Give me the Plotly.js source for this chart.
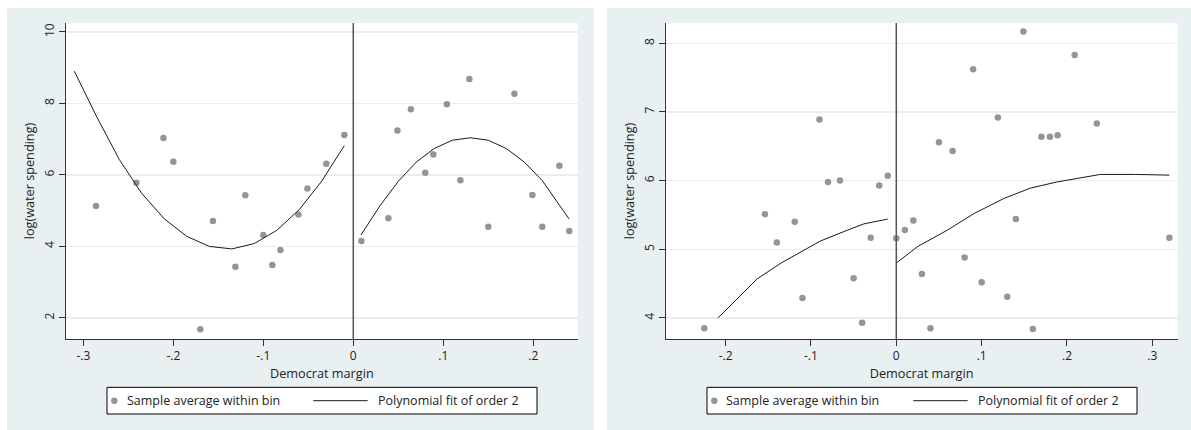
<!DOCTYPE html>
<html><head><meta charset="utf-8">
<script src="https://cdn.plot.ly/plotly-3.0.1.min.js"></script>
<style>html,body{margin:0;padding:0;background:#fff}#chart{width:1191px;height:430px}</style>
</head><body><div id="chart"></div>
<script>
// ---------- Panel 1 data ----------
const p1BinX = [-0.286,-0.241,-0.211,-0.200,-0.170,-0.156,-0.131,-0.120,-0.100,-0.090,-0.081,-0.061,-0.051,-0.030,-0.010,
                0.009,0.039,0.049,0.064,0.080,0.089,0.104,0.119,0.129,0.150,0.179,0.199,0.210,0.229,0.240];
const p1BinY = [5.13,5.78,7.03,6.37,1.68,4.71,3.43,5.43,4.32,3.48,3.90,4.89,5.62,6.31,7.12,
                4.15,4.79,7.24,7.84,6.06,6.57,7.98,5.85,8.68,4.55,8.27,5.44,4.55,6.26,4.43];
const p1FitLX = [-0.310,-0.285,-0.260,-0.235,-0.210,-0.185,-0.160,-0.135,-0.110,-0.085,-0.060,-0.035,-0.010];
const p1FitLY = [8.90,7.62,6.43,5.48,4.77,4.28,4.00,3.93,4.08,4.45,5.03,5.83,6.82];
const p1FitRX = [0.0085,0.030,0.050,0.070,0.090,0.110,0.130,0.150,0.170,0.190,0.210,0.2397];
const p1FitRY = [4.32,5.15,5.82,6.36,6.74,6.97,7.04,6.97,6.74,6.36,5.84,4.77];
const p1XTicks = [-0.3,-0.2,-0.1,0,0.1,0.2];
const p1XTickText = ['-.3','-.2','-.1','0','.1','.2'];
const p1YTicks = [2,4,6,8,10];

// ---------- Panel 2 data ----------
const p2BinX = [-0.225,-0.154,-0.140,-0.119,-0.110,-0.090,-0.080,-0.066,-0.050,-0.040,-0.030,-0.020,-0.010,
                0.000,0.010,0.020,0.030,0.040,0.050,0.066,0.080,0.090,0.100,0.119,0.130,0.140,0.149,0.160,0.170,0.180,0.189,0.209,0.235,0.320];
const p2BinY = [3.85,5.51,5.10,5.40,4.29,6.89,5.98,6.00,4.58,3.93,5.17,5.93,6.07,
                5.16,5.28,5.42,4.64,3.85,6.56,6.43,4.88,7.62,4.52,6.92,4.31,5.44,8.17,3.84,6.64,6.64,6.66,7.83,6.83,5.17];
const p2FitLX = [-0.209,-0.185,-0.163,-0.135,-0.108,-0.089,-0.057,-0.038,-0.010];
const p2FitLY = [4.00,4.30,4.57,4.80,4.99,5.12,5.28,5.37,5.44];
const p2FitRX = [0.000,0.025,0.060,0.091,0.126,0.157,0.188,0.212,0.239,0.280,0.320];
const p2FitRY = [4.80,5.04,5.28,5.52,5.74,5.89,5.98,6.03,6.09,6.09,6.08];
const p2XTicks = [-0.2,-0.1,0,0.1,0.2,0.3];
const p2XTickText = ['-.2','-.1','0','.1','.2','.3'];
const p2YTicks = [4,5,6,7,8];

const binName = 'Sample average within bin';
const fitName = 'Polynomial fit of order 2';

// ---------- styling ----------
const FONT = '"Open Sans", "Noto Sans", sans-serif';
const TXT = '#222222';
const BG = '#e8f0f2';
const DOT = '#959595';
const W = 1191, H = 430;
const dot = {color:DOT, size:6.5};
const ln = {color:'#1a1a1a', width:1};

const traces = [
  {x:p1BinX, y:p1BinY, type:'scatter', mode:'markers', marker:dot, name:binName, xaxis:'x', yaxis:'y'},
  {x:p1FitLX, y:p1FitLY, type:'scatter', mode:'lines', line:ln, name:fitName, xaxis:'x', yaxis:'y'},
  {x:p1FitRX, y:p1FitRY, type:'scatter', mode:'lines', line:ln, name:fitName, xaxis:'x', yaxis:'y'},
  {x:p2BinX, y:p2BinY, type:'scatter', mode:'markers', marker:dot, name:binName, xaxis:'x2', yaxis:'y2'},
  {x:p2FitLX, y:p2FitLY, type:'scatter', mode:'lines', line:ln, name:fitName, xaxis:'x2', yaxis:'y2'},
  {x:p2FitRX, y:p2FitRY, type:'scatter', mode:'lines', line:ln, name:fitName, xaxis:'x2', yaxis:'y2'}
];

function xAxis(domain, range, tv, tt, anchor){
  return {domain:domain, range:range, anchor:anchor, tickvals:tv, ticktext:tt,
    ticks:'outside', ticklen:6, tickcolor:'#333', tickwidth:1,
    showline:true, linecolor:'#333', linewidth:1, showgrid:false, zeroline:false,
    tickfont:{family:FONT, size:12, color:TXT},
    title:{text:'Democrat margin', font:{family:FONT, size:12.7, color:TXT}, standoff:1},
    automargin:false, fixedrange:true};
}
function yAxis(domain, range, tv, anchor){
  return {domain:domain, range:range, anchor:anchor, tickvals:tv, tickangle:-90,
    ticks:'outside', ticklen:6, tickcolor:'#333', tickwidth:1,
    showline:true, linecolor:'#333', linewidth:1, showgrid:true, gridcolor:'#e6eef1', gridwidth:1.3, zeroline:false,
    tickfont:{family:FONT, size:12, color:TXT},
    title:{text:'log(water spending)', font:{family:FONT, size:12.7, color:TXT}, standoff:3},
    automargin:false, fixedrange:true};
}

// legend drawn as a framed key (box, marker, line, labels) for each panel
const px = v => v / W, py = v => 1 - v / H;
function legendParts(off){
  const cy = 400.7;
  const shapes = [
    {type:'rect', xref:'paper', yref:'paper', x0:px(107+off), x1:px(537+off), y0:py(414), y1:py(387.3),
      fillcolor:'#ffffff', line:{color:'#000000', width:1}, layer:'above'},
    {type:'circle', xref:'paper', yref:'paper', x0:px(114.3+off-3.2), x1:px(114.3+off+3.2), y0:py(cy+3.2), y1:py(cy-3.2),
      fillcolor:DOT, line:{width:0}, layer:'above'},
    {type:'line', xref:'paper', yref:'paper', x0:px(313.3+off), x1:px(367.7+off), y0:py(cy), y1:py(cy),
      line:{color:'#1a1a1a', width:1}, layer:'above'}
  ];
  const ann = [
    {xref:'paper', yref:'paper', x:px(124.5+off), y:py(cy), xanchor:'left', yanchor:'middle', showarrow:false,
      text:binName, font:{family:FONT, size:12.5, color:TXT}},
    {xref:'paper', yref:'paper', x:px(376+off), y:py(cy), xanchor:'left', yanchor:'middle', showarrow:false,
      text:fitName, font:{family:FONT, size:12.5, color:TXT}}
  ];
  return {shapes, ann};
}
const lg1 = legendParts(0), lg2 = legendParts(600);

const yDom = [1-339/H, 1-23/H];
const layout = {
  width:W, height:H,
  margin:{l:0, r:0, t:0, b:0},
  paper_bgcolor:'#ffffff', plot_bgcolor:'rgba(0,0,0,0)',
  font:{family:FONT, color:TXT},
  showlegend:false,
  xaxis: xAxis([65.7/W, 578/W], [-0.3196, 0.2497], p1XTicks, p1XTickText, 'y'),
  yaxis: yAxis(yDom, [1.41, 10.25], p1YTicks, 'x'),
  xaxis2: xAxis([665.7/W, 1177.5/W], [-0.2702, 0.3295], p2XTicks, p2XTickText, 'y2'),
  yaxis2: yAxis(yDom, [3.694, 8.295], p2YTicks, 'x2'),
  shapes:[
    {type:'rect', xref:'paper', yref:'paper', x0:7/W, x1:594/W, y0:0, y1:1-8/H, fillcolor:BG, line:{width:0}, layer:'below'},
    {type:'rect', xref:'paper', yref:'paper', x0:607/W, x1:1, y0:0, y1:1-8/H, fillcolor:BG, line:{width:0}, layer:'below'},
    {type:'rect', xref:'x domain', yref:'y domain', x0:0, x1:1, y0:0, y1:1, fillcolor:'#ffffff', line:{width:0}, layer:'below'},
    {type:'rect', xref:'x2 domain', yref:'y2 domain', x0:0, x1:1, y0:0, y1:1, fillcolor:'#ffffff', line:{width:0}, layer:'below'},
    {type:'line', xref:'x', yref:'y domain', x0:0, x1:0, y0:0, y1:1, line:{color:'#555555', width:1.5}},
    {type:'line', xref:'x2', yref:'y2 domain', x0:0, x1:0, y0:0, y1:1, line:{color:'#555555', width:1.5}}
  ].concat(lg1.shapes, lg2.shapes),
  annotations: lg1.ann.concat(lg2.ann)
};

Plotly.newPlot('chart', traces, layout, {staticPlot:true, displayModeBar:false});
</script>
</body></html>
